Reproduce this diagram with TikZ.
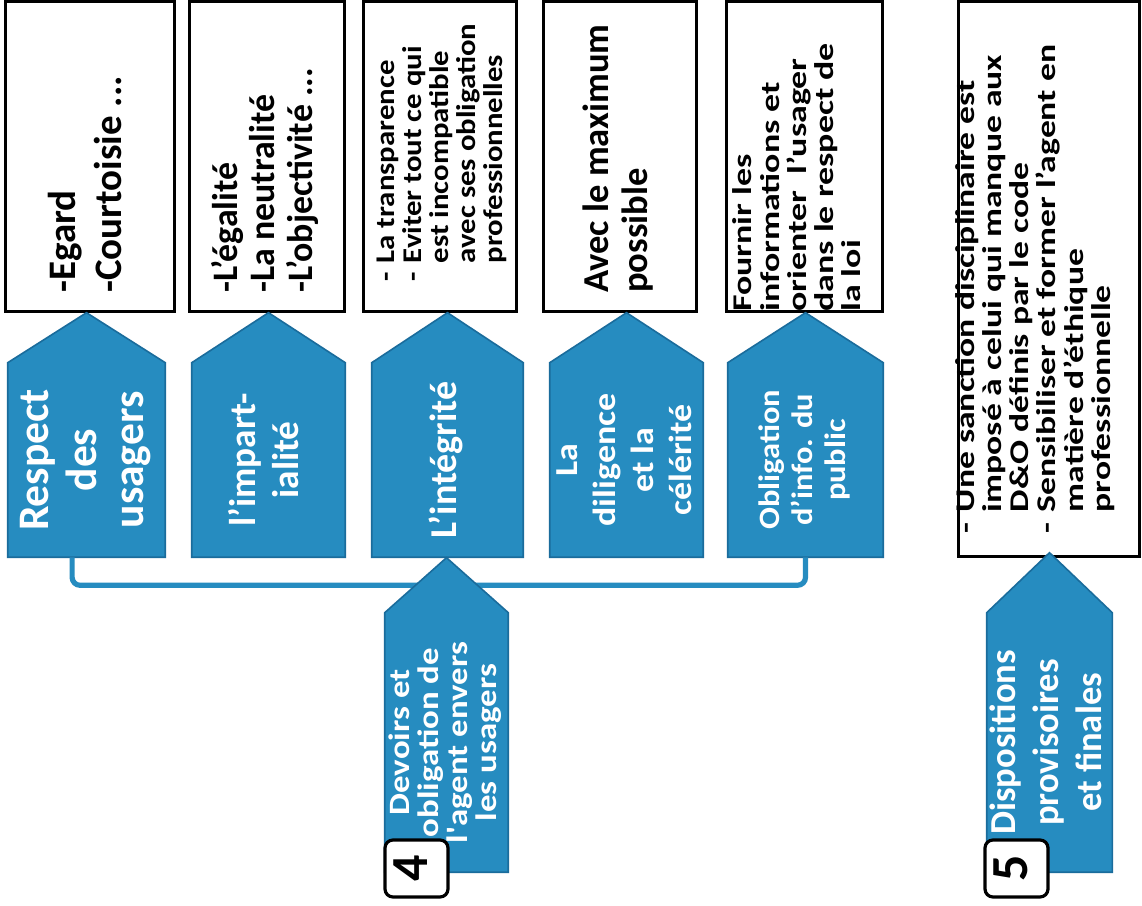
\documentclass[tikz,border=0pt]{standalone}
\usepackage{fontspec}
\setmainfont{Carlito}

\definecolor{bleu}{RGB}{38,140,192}
\definecolor{bleufonce}{RGB}{26,108,156}

% texte tourne, se lit de bas en haut (taille, interligne, etirement, colonnes, texte)
\newcommand{\vtxt}[5]{\rotatebox{90}{\fontsize{#1}{#2}\selectfont\bfseries
  \scalebox{#3}[1]{\begin{tabular}{@{}#4@{}}#5\end{tabular}}}}

% fleche vers le haut (nom, centre du corps, largeur, hauteur du corps, pointe, texte)
\newcommand{\fleche}[6]{%
  \node[corps, minimum width=#3, minimum height=#4] (#1) at #2 {};
  \filldraw[pente] (#1.south west) -- (#1.north west) -- ([yshift=#5]#1.north)
    -- (#1.north east) -- (#1.south east) -- cycle;
  \node[corps] (#1-t) at (#1.center) {#6};}

\begin{document}
\begin{tikzpicture}[x=0.25mm,y=0.25mm]
\tikzstyle corps=[inner sep=0pt, text=white]
\tikzstyle pente=[fill=bleu, draw=bleufonce, line width=0.4mm]
\tikzstyle boite=[draw=black, line width=0.75mm, fill=white, inner sep=0pt]
\tikzstyle texte=[anchor=south, inner sep=0pt, text=black]
\tikzstyle liaison=[draw=bleu, line width=1.3mm, rounded corners=2mm]
\tikzstyle numero=[draw=black, line width=0.8mm, fill=white, rounded corners=2mm, minimum width=15.75mm, minimum height=14.25mm, inner sep=0pt]

\path[use as bounding box, fill=white] (0,0) rectangle (1142,906);

% cadres du haut
\node[boite, minimum width=42mm, minimum height=77.5mm] (b1) at (90,749) {};
\node[boite, minimum width=38.75mm, minimum height=77.5mm] (b2) at (266.5,749) {};
\node[boite, minimum width=38.25mm, minimum height=77.5mm] (b3) at (439.5,749) {};
\node[boite, minimum width=38.25mm, minimum height=77.5mm] (b4) at (619.5,749) {};
\node[boite, minimum width=39mm, minimum height=77.5mm] (b5) at (804,749) {};
\node[boite, minimum width=45.25mm, minimum height=138.75mm] (b6) at (1048.5,626.5) {};

\node[texte] (t1) at (89.5,613) {\vtxt{27.7pt}{33pt}{1}{l}{-Egard\\-Courtoisie ...}};
\node[texte] (t2) at (267.5,613) {\vtxt{25.5pt}{26.3pt}{1}{l}{-L’égalité\\-La neutralité\\-L’objectivité ...}};
\node[texte] (t3) at (443,624) {\vtxt{19.2pt}{19.2pt}{1.14}{l@{\hspace{2mm}}l}{-&La transparence\\-&Eviter tout ce qui\\&est incompatible\\&avec ses obligation\\&professionnelles}};
\node[texte] (t4) at (620,613) {\vtxt{26pt}{28.4pt}{1}{l}{Avec le maximum\\possible}};
\node[texte] (t5) at (801,594) {\vtxt{19.2pt}{19.2pt}{1.33}{l}{Fournir les\\informations et\\orienter~ l’usager\\dans le respect de\\la loi}};
\node[texte] (t6) at (1037,372) {\vtxt{19.2pt}{19.2pt}{1.32}{l@{\hspace{2mm}}l}{-&Une sanction disciplinaire est\\&imposé à celui qui manque aux\\&D\&O définis par le code\\-&Sensibiliser et former l’agent en\\&matière d’éthique\\&professionnelle}};

% fleches
\fleche{p1}{(86.5,446)}{39.25mm}{48.5mm}{12.5mm}{\vtxt{31pt}{34pt}{1}{c}{Respect\\des\\usagers}}
\fleche{p2}{(268.5,446)}{38.25mm}{48.5mm}{12.5mm}{\vtxt{26.5pt}{30.6pt}{1}{c}{l’impart-\\ialité}}
\fleche{p3}{(447.5,446)}{37.75mm}{48.5mm}{12.5mm}{\vtxt{27pt}{30.6pt}{1}{c}{L’intégrité}}
\fleche{p4}{(626.5,446)}{38.25mm}{48.5mm}{12.5mm}{\vtxt{22.8pt}{27pt}{1.12}{c}{La\\diligence\\et la\\célérité}}
\fleche{p5}{(805.5,446)}{38.75mm}{48.5mm}{12.5mm}{\vtxt{21pt}{23.5pt}{1.1}{c}{Obligation\\d’info. du\\public}}

\draw[liaison] ([xshift=-3.6mm]p1.south) -- ++(0,-28) -| (p5.south);

\fleche{pd}{(446.5,163.5)}{30.75mm}{64.75mm}{13.75mm}{\vtxt{21pt}{19.2pt}{1.18}{c}{Devoirs et\\obligation de\\l\textquotesingle agent envers\\les usagers}}
\fleche{pf}{(1049.5,163.5)}{31.25mm}{64.75mm}{15mm}{\vtxt{26pt}{30.6pt}{1}{c}{Dispositions\\provisoires\\et finales}}

\node[numero] (n4) at (416.5,37.5) {\vtxt{37pt}{40pt}{1}{c}{4}};
\node[numero] (n5) at (1016.5,37.5) {\vtxt{37pt}{40pt}{1}{c}{5}};
\end{tikzpicture}
\end{document}
